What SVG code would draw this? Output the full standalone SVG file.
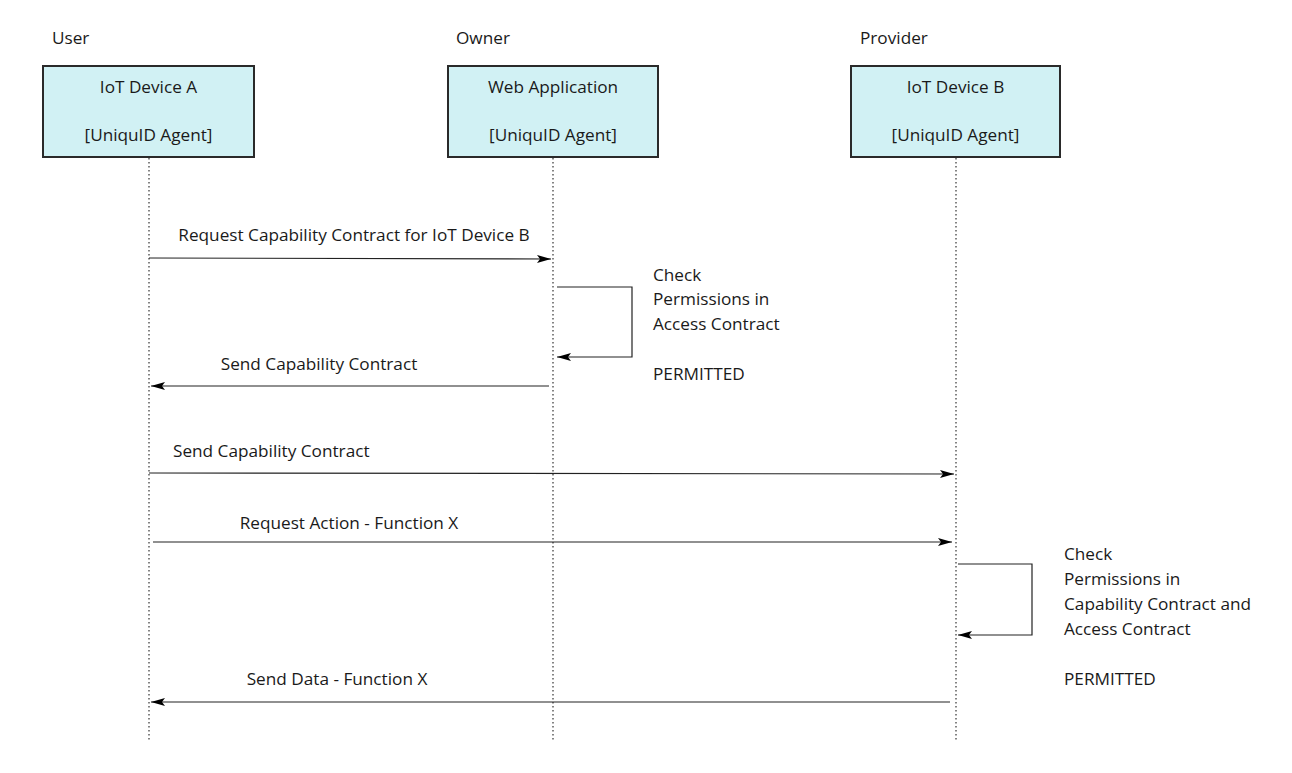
<svg xmlns="http://www.w3.org/2000/svg" width="1292" height="773" viewBox="0 0 1292 773">
<defs>
<marker id="ah" viewBox="0 0 14 8" refX="14" refY="4" markerWidth="14" markerHeight="8" markerUnits="userSpaceOnUse" orient="auto">
<path d="M0,0 L14,4 L0,8 L3,4 Z" fill="#000"/>
</marker>
</defs>
<style>
text{font-family:"Open Sans","Noto Sans","Liberation Sans",sans-serif;font-size:17.2px;fill:#1a1a1a}
.box{fill:#d1f1f4;stroke:#2a2a2a;stroke-width:2}
.life{stroke:#333;stroke-width:1.2;stroke-dasharray:1.5 2.5;fill:none}
.msg{stroke:#222;stroke-width:1.2;fill:none;marker-end:url(#ah)}
.c{text-anchor:middle}
</style>
<rect width="1292" height="773" fill="#fff"/>
<text x="52" y="44">User</text>
<text x="456" y="44">Owner</text>
<text x="860" y="44">Provider</text>
<g id="lifelines">
<line class="life" x1="149" y1="158" x2="149" y2="742"/>
<line class="life" x1="553" y1="158" x2="553" y2="742"/>
<line class="life" x1="956" y1="158" x2="956" y2="742"/>
</g>
<g id="deviceA">
<rect class="box" x="43" y="66" width="211" height="91"/>
<text class="c" x="148.5" y="93">IoT Device A</text>
<text class="c" x="148.5" y="141">[UniquID Agent]</text>
</g>
<g id="webApp">
<rect class="box" x="448" y="66" width="210" height="91"/>
<text class="c" x="553" y="93">Web Application</text>
<text class="c" x="553" y="141">[UniquID Agent]</text>
</g>
<g id="deviceB">
<rect class="box" x="851" y="66" width="209" height="91"/>
<text class="c" x="955.5" y="93">IoT Device B</text>
<text class="c" x="955.5" y="141">[UniquID Agent]</text>
</g>
<g id="connectors">
<line class="msg" x1="149" y1="258" x2="551" y2="259"/>
<path class="msg" d="M557,287 L632,287 L632,357 L557,357"/>
<line class="msg" x1="549" y1="386" x2="151" y2="386"/>
<line class="msg" x1="149" y1="473" x2="954" y2="474"/>
<line class="msg" x1="153" y1="542" x2="952" y2="542"/>
<path class="msg" d="M958,564 L1032,564 L1032,635 L958,635"/>
<line class="msg" x1="950" y1="702" x2="151" y2="702"/>
</g>
<g id="labels">
<text class="c" x="354" y="241">Request Capability Contract for IoT Device B</text>
<text x="653" y="281">Check</text>
<text x="653" y="305">Permissions in</text>
<text x="653" y="330">Access Contract</text>
<text x="653" y="380">PERMITTED</text>
<text class="c" x="319" y="370">Send Capability Contract</text>
<text x="173" y="457">Send Capability Contract</text>
<text class="c" x="349" y="529">Request Action - Function X</text>
<text x="1064" y="560">Check</text>
<text x="1064" y="585">Permissions in</text>
<text x="1064" y="610">Capability Contract and</text>
<text x="1064" y="635">Access Contract</text>
<text x="1064" y="685">PERMITTED</text>
<text class="c" x="337" y="685">Send Data - Function X</text>
</g>
</svg>
